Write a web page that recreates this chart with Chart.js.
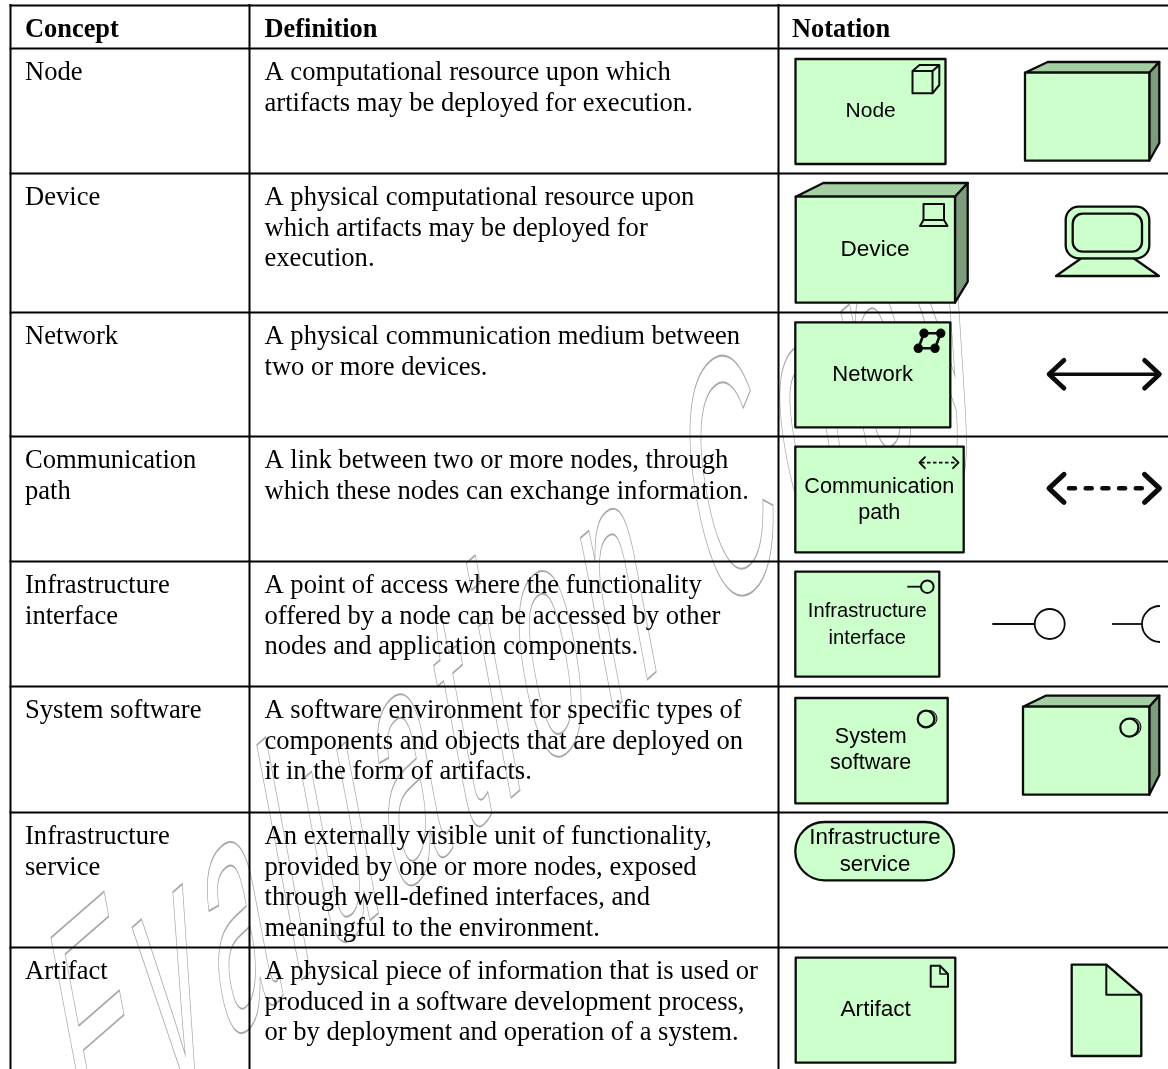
<!DOCTYPE html>
<html><head><meta charset="utf-8">
<style>html,body{margin:0;padding:0;background:#fff}canvas{display:block}</style>
<script src="https://cdn.jsdelivr.net/npm/chart.js@4"></script>
</head><body><canvas id="c" width="1168" height="1069"></canvas>
<script>
const headers = ["Concept","Definition","Notation"];
const concepts = [["Node"],["Device"],["Network"],["Communication","path"],["Infrastructure","interface"],["System software"],["Infrastructure","service"],["Artifact"]];
const definitions = [
 ["A computational resource upon which","artifacts may be deployed for execution."],
 ["A physical computational resource upon","which artifacts may be deployed for","execution."],
 ["A physical communication medium between","two or more devices."],
 ["A link between two or more nodes, through","which these nodes can exchange information."],
 ["A point of access where the functionality","offered by a node can be accessed by other","nodes and application components."],
 ["A software environment for specific types of","components and objects that are deployed on","it in the form of artifacts."],
 ["An externally visible unit of functionality,","provided by one or more nodes, exposed","through well-defined interfaces, and","meaningful to the environment."],
 ["A physical piece of information that is used or","produced in a software development process,","or by deployment and operation of a system."]
];
const rowRules = [5.5,48.5,173.5,312.5,436.5,561.5,686.5,812.5,947.5];
const colRules = [10.5,249.5,778.5];
const watermark = "Evaluation Copy";

const GREEN="#ccffcc", TOP="#a3cfa3", SIDE="#7c9c7c", INK="#0c0c0c";
const rules=[];
rowRules.forEach(y=>rules.push({data:[{x:colRules[0]-1,y},{x:1168,y}]}));
colRules.forEach(x=>rules.push({data:[{x,y:4},{x,y:1069}]}));

const tablePlugin={id:'table',
 beforeDatasetsDraw(ch){
  const c=ch.ctx,S=ch.scales,X=v=>S.x.getPixelForValue(v),Y=v=>S.y.getPixelForValue(v);
  c.save();
  c.beginPath();c.rect(0,0,X(970),Y(1069));c.clip();
  c.font='100px "Liberation Sans"';c.strokeStyle='#a8a8a8';c.textBaseline='alphabetic';c.textAlign='left';
  const ux=0.755,uy=-0.656,vx=0.187,vy=0.982,emU=135,emV=330,track=15;
  let t=0;
  for(const ch2 of watermark){
    const w=c.measureText(ch2).width/100*emU;
    c.save();
    c.transform(ux*emU/100,uy*emU/100,vx*emV/100,vy*emV/100,X(85+ux*t),Y(1168+uy*t));
    c.lineWidth=0.6;
    if(ch2!==' ')c.strokeText(ch2,0,0);
    c.restore();
    t+=w+track;
  }
  c.restore();
 },
 afterDatasetsDraw(ch){
  const c=ch.ctx,S=ch.scales,X=v=>S.x.getPixelForValue(v),Y=v=>S.y.getPixelForValue(v);
  c.save();c.textBaseline='alphabetic';c.lineJoin='round';
  const serif='"Liberation Serif"';
  // table text
  c.fillStyle='#000';c.textAlign='left';
  c.font='bold 26.4px '+serif;
  [25,264.5,792].forEach((x,i)=>c.fillText(headers[i],X(x),Y(37)));
  c.font='26.6px '+serif;
  const LH=30.7;
  concepts.forEach((ls,r)=>ls.forEach((t,i)=>c.fillText(t,X(25),Y(rowRules[r+1]+31.3+i*LH))));
  definitions.forEach((ls,r)=>ls.forEach((t,i)=>c.fillText(t,X(264.5),Y(rowRules[r+1]+31.3+i*LH))));
  // helpers
  const poly=(pts,fill,lw=2.3)=>{c.beginPath();pts.forEach((p,i)=>i?c.lineTo(X(p[0]),Y(p[1])):c.moveTo(X(p[0]),Y(p[1])));c.closePath();if(fill){c.fillStyle=fill;c.fill();}c.lineWidth=lw;c.strokeStyle=INK;c.stroke();};
  const line=(pts,lw=2,dash)=>{c.beginPath();pts.forEach((p,i)=>i?c.lineTo(X(p[0]),Y(p[1])):c.moveTo(X(p[0]),Y(p[1])));c.lineWidth=lw;c.strokeStyle=INK;c.setLineDash(dash||[]);c.stroke();c.setLineDash([]);};
  const box=(x0,y0,x1,y1,fill=GREEN,lw=2.3)=>poly([[x0,y0],[x1,y0],[x1,y1],[x0,y1]],fill,lw);
  const box3d=(x0,y0,x1,y1,bx,bxr,by,bry)=>{
    poly([[x0,y0],[bx,by],[bxr,by],[x1,y0]],TOP);
    poly([[x1,y0],[bxr,by],[bxr,bry],[x1,y1]],SIDE);
    box(x0,y0,x1,y1);
  };
  const round=(x0,y0,x1,y1,r,fill,lw=2.3)=>{c.beginPath();c.roundRect(X(x0),Y(y0),X(x1)-X(x0),Y(y1)-Y(y0),r);if(fill){c.fillStyle=fill;c.fill();}c.lineWidth=lw;c.strokeStyle=INK;c.stroke();};
  const circle=(x,y,r,fill,lw=2)=>{c.beginPath();c.arc(X(x),Y(y),r,0,Math.PI*2);if(fill){c.fillStyle=fill;c.fill();}c.lineWidth=lw;c.strokeStyle=INK;c.stroke();};
  const label=(ls,x,ys,size=21)=>{c.fillStyle='#000';c.textAlign='center';ls.forEach((t,i)=>{c.font=size+'px "Liberation Sans"';c.fillText(t,X(x),Y(ys[i]));});c.textAlign='left';};
  const arrowHeads=(x0,x1,y,h,v,lw)=>{c.lineCap='round';line([[x0+h,y-v],[x0,y],[x0+h,y+v]],lw);line([[x1-h,y-v],[x1,y],[x1-h,y+v]],lw);c.lineCap='butt';};
  // Node
  box(795.5,59,945.5,164);
  poly([[912.5,71],[919.5,65],[939.3,65],[939.3,85],[932.5,93.3],[912.5,93.3]],null,2);
  line([[912.5,71],[932.5,71],[939.3,65]]);line([[932.5,71],[932.5,93.3]]);
  label(["Node"],870.7,[117],21);
  box3d(1025,72.7,1149.3,160.7,1047.7,1159.3,62,143);
  // Device
  box3d(795.7,196.7,955,302.7,823.3,967.7,183,281.7);
  box(923.5,204,944,220,null,2);
  poly([[923.5,220],[920,226],[947.5,226],[944,220]],null,2);
  label(["Device"],875,[256],22.6);
  poly([[1081.7,258],[1056,276],[1159,276],[1133.3,258]],GREEN);
  round(1065.7,206.7,1149.3,258.3,13,GREEN);
  round(1072.7,213.7,1142,251.7,10,GREEN);
  // Network
  box(795.3,322.3,950.3,427.3);
  poly([[924,333.3],[940.7,333.3],[935,348.3],[918.3,348.3]],null,2.6);
  [[924,333.3],[940.7,333.3],[918.3,348.3],[935,348.3]].forEach(p=>circle(p[0],p[1],4,'#000',1.5));
  label(["Network"],872.7,[380.7],22);
  line([[1050,374.3],[1158,374.3]],3.6);
  arrowHeads(1049,1159.5,374.3,15,14,4.6);
  // Communication path
  box(795.3,446.7,963.7,552.3);
  line([[921,462.7],[957,462.7]],1.8,[3.5,2.5]);
  arrowHeads(919.5,958.5,462.7,5.5,5.5,1.9);
  label(["Communication","path"],879.3,[492.7,519.3],21.6);
  c.lineCap='round';line([[1069,488.3],[1142,488.3]],4.6,[6,10.7]);c.lineCap='butt';
  arrowHeads(1049,1159.5,488.3,15,14,5);
  // Infrastructure interface
  box(795.3,571.7,939.3,676.7);
  line([[907.3,586.7],[921,586.7]],1.8);
  circle(927.3,586.7,6.3,null,2);
  label(["Infrastructure","interface"],867.3,[617.3,644],20.2);
  line([[992.3,624],[1035,624]],1.8);
  circle(1049.7,624,15,'#fff',1.8);
  line([[1112,624],[1142.7,624]],1.8);
  c.beginPath();c.arc(X(1160),Y(624),18,Math.PI*0.5,Math.PI*1.5);c.lineWidth=1.8;c.strokeStyle=INK;c.stroke();
  // System software
  box(795.3,698,947.7,803.3);
  circle(929,718.5,8,'#999',1);circle(926,719,8.3,GREEN,2.2);
  label(["System","software"],870.7,[742.7,769.3],21.5);
  box3d(1023,706.7,1149.3,794.7,1045.7,1159.3,695.7,775);
  circle(1132,727,9,'#999',1);circle(1129.3,727.7,9,GREEN,2.2);
  // Infrastructure service
  round(795.3,822,954,880.3,29,GREEN);
  label(["Infrastructure","service"],875,[844,870.7],22.3);
  // Artifact
  box(795.7,957.7,955.3,1062.7);
  poly([[930.7,965.7],[940,965.7],[948,974],[948,986.7],[930.7,986.7]],null,2);
  line([[940,965.7],[940,974],[948,974]],1.6);
  label(["Artifact"],875.7,[1016],22.6);
  poly([[1071.7,964.7],[1106.3,964.7],[1141.3,994.7],[1141.3,1056],[1071.7,1056]],GREEN);
  line([[1106.3,964.7],[1106.3,994.7],[1141.3,994.7]]);
  c.restore();
 }};

new Chart(document.getElementById('c'),{
 type:'scatter',
 data:{datasets:rules.map(r=>({data:r.data,showLine:true,pointRadius:0,borderColor:'#000',borderWidth:2,clip:false}))},
 options:{responsive:false,animation:false,
  layout:{padding:0},
  plugins:{legend:{display:false},tooltip:{enabled:false}},
  scales:{x:{type:'linear',min:0,max:1168,display:false},y:{type:'linear',min:0,max:1069,reverse:true,display:false}}},
 plugins:[tablePlugin]
});
</script></body></html>
